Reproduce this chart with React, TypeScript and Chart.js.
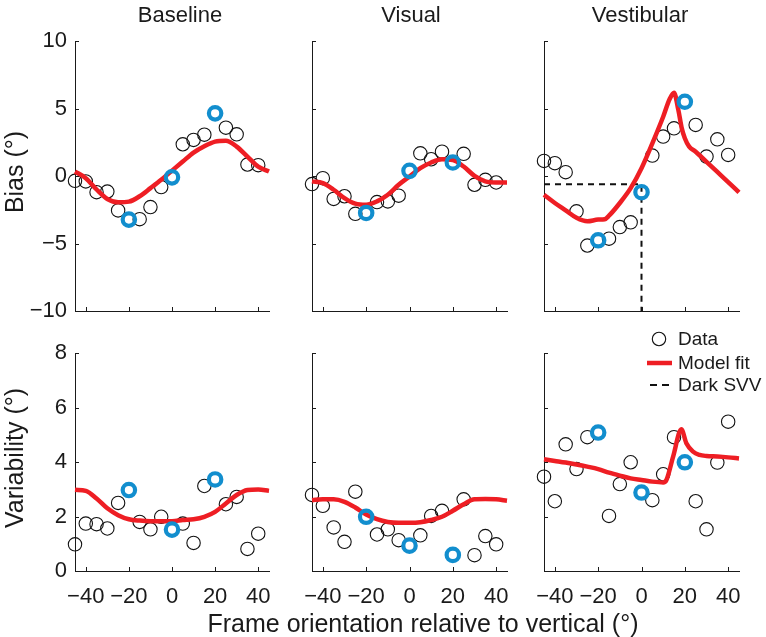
import React, { useEffect, useRef } from 'react';
import { Chart, registerables } from 'chart.js';

Chart.register(...registerables);

// ---------- data ----------
const ANGLES = [-45, -40, -35, -30, -25, -20, -15, -10, -5, 0, 5, 10, 15, 20, 25, 30, 35, 40];
const HIGHLIGHT_ANGLES = [-20, 0, 20];
const FIT_ANGLES = [-45, -40, -35, -30, -25, -20, -15, -10, -5, 0, 5, 10, 15, 20, 25, 30, 35, 40, 45];
const X_TICKS = [-40, -20, 0, 20, 40];
const BIAS_TICKS = [-10, -5, 0, 5, 10];
const VAR_TICKS = [0, 2, 4, 6, 8];
const COLUMN_TITLES = ['Baseline', 'Visual', 'Vestibular'];
const LEGEND_LABELS = ['Data', 'Model fit', 'Dark SVV'];

const BASE_BIAS = [-0.36, -0.4, -1.2, -1.15, -2.55, -3.23, -3.2, -2.3, -0.82, -0.1, 2.35, 2.67, 3.06, 4.64, 3.58, 3.09, 0.85, 0.8];
const BASE_BIAS_FIT = [0.33, -0.16, -1.0, -1.7, -1.95, -1.9, -1.5, -0.9, -0.28, 0.4, 1.07, 1.73, 2.2, 2.55, 2.62, 2.18, 1.44, 0.7, 0.33];

const VIS_BIAS = [-0.6, -0.16, -1.7, -1.5, -2.8, -2.74, -1.93, -1.88, -1.46, 0.38, 1.68, 1.24, 1.8, 1.0, 1.64, -0.65, -0.28, -0.48];
const VIS_BIAS_FIT = [-0.4, -0.53, -1.02, -1.64, -2.05, -2.13, -1.88, -1.39, -0.65, -0.04, 0.58, 1.0, 1.24, 1.19, 0.7, 0.01, -0.4, -0.48, -0.48];

const VEST_BIAS = [1.12, 0.95, 0.28, -2.62, -5.15, -4.76, -4.64, -3.78, -3.43, -1.2, 1.51, 2.92, 3.53, 5.5, 3.78, 1.44, 2.72, 1.56];
const VEST_BIAS_FIT_ANGLES = [-45, -40, -35, -30, -25, -20, -17, -15, -10, -5, 0, 5, 10, 13, 15, 17, 18.5, 20, 22, 25, 30, 35, 40, 45];
const VEST_BIAS_FIT = [-1.39, -2.0, -2.55, -3.1, -3.36, -3.23, -3.2, -2.94, -2.0, -0.9, 0.58, 2.42, 4.39, 5.7, 6.16, 4.9, 3.6, 2.8, 2.18, 1.8, 1.05, 0.3, -0.45, -1.22];
const DARK_SVV = -0.62;

const BASE_VAR = [0.98, 1.74, 1.72, 1.56, 2.5, 2.97, 1.8, 1.53, 1.99, 1.52, 1.74, 1.03, 3.12, 3.36, 2.45, 2.72, 0.81, 1.37];
const BASE_VAR_FIT = [2.98, 2.94, 2.66, 2.3, 2.05, 1.9, 1.85, 1.83, 1.83, 1.83, 1.87, 1.9, 1.99, 2.17, 2.48, 2.79, 2.97, 2.99, 2.94];

const VIS_VAR = [2.79, 2.39, 1.6, 1.07, 2.91, 1.99, 1.34, 1.53, 1.13, 0.93, 1.31, 2.02, 2.21, 0.59, 2.63, 0.58, 1.28, 0.98];
const VIS_VAR_FIT = [2.6, 2.63, 2.63, 2.54, 2.33, 2.07, 1.9, 1.8, 1.77, 1.77, 1.79, 1.87, 1.99, 2.21, 2.45, 2.63, 2.64, 2.63, 2.58];

const VEST_VAR = [3.46, 2.56, 4.65, 3.74, 4.91, 5.08, 2.02, 3.19, 3.99, 2.88, 2.6, 3.55, 4.91, 3.99, 2.56, 1.53, 3.98, 5.48];
const VEST_VAR_FIT_ANGLES = [-45, -40, -35, -30, -25, -20, -15, -10, -5, 0, 5, 10, 11.5, 14.6, 18.4, 20.7, 23.8, 26.8, 30, 35, 40, 45];
const VEST_VAR_FIT = [4.1, 4.04, 3.98, 3.91, 3.83, 3.74, 3.61, 3.5, 3.4, 3.34, 3.28, 3.25, 3.34, 4.2, 5.2, 4.69, 4.38, 4.26, 4.22, 4.2, 4.17, 4.13];

// ---------- styles ----------
const FONT = "'Liberation Sans', Arial, Helvetica, sans-serif";
const RED = 'rgb(238,30,36)';
const BLUE = 'rgb(18,142,206)';
const INK = '#1a1a1a';

const fmt = (v: number) => (v < 0 ? '\u2212' + Math.abs(v) : String(v));

type Rect = { left: number; top: number; width: number; height: number };
type Area = { left: number; top: number; right: number; bottom: number };

interface PanelCfg {
  canvas: Rect;
  area: Area;
  yMin: number;
  yMax: number;
  yTicks: number[];
  showX: boolean;
  showY: boolean;
  values: number[];
  fitX: number[];
  fitY: number[];
  svv?: number;
  legend?: boolean;
}

const COLS = [
  { left: 0, width: 290, aLeft: 75, aRight: 269 },
  { left: 282, width: 245, aLeft: 312, aRight: 507 },
  { left: 520, width: 246, aLeft: 544, aRight: 739 },
];
const ROWS = [
  { top: 15, height: 315, aTop: 41, aBottom: 311 },
  { top: 320, height: 310, aTop: 353, aBottom: 571 },
];

function makePanel(col: number, row: number, values: number[], fitX: number[], fitY: number[], extra: Partial<PanelCfg> = {}): PanelCfg {
  const c = COLS[col];
  const r = ROWS[row];
  return {
    canvas: { left: c.left, top: r.top, width: c.width, height: r.height },
    area: { left: c.aLeft, right: c.aRight, top: r.aTop, bottom: r.aBottom },
    yMin: row === 0 ? -10 : 0,
    yMax: row === 0 ? 10 : 8,
    yTicks: row === 0 ? BIAS_TICKS : VAR_TICKS,
    showX: row === 1,
    showY: col === 0,
    values,
    fitX,
    fitY,
    ...extra,
  };
}

const PANELS: PanelCfg[] = [
  makePanel(0, 0, BASE_BIAS, FIT_ANGLES, BASE_BIAS_FIT),
  makePanel(1, 0, VIS_BIAS, FIT_ANGLES, VIS_BIAS_FIT),
  makePanel(2, 0, VEST_BIAS, VEST_BIAS_FIT_ANGLES, VEST_BIAS_FIT, { svv: DARK_SVV }),
  makePanel(0, 1, BASE_VAR, FIT_ANGLES, BASE_VAR_FIT),
  makePanel(1, 1, VIS_VAR, FIT_ANGLES, VIS_VAR_FIT),
  makePanel(2, 1, VEST_VAR, VEST_VAR_FIT_ANGLES, VEST_VAR_FIT, { legend: true }),
];

function Panel({ cfg }: { cfg: PanelCfg }) {
  const ref = useRef<HTMLCanvasElement | null>(null);
  useEffect(() => {
    const canvas = ref.current;
    if (!canvas) return;
    const { canvas: c, area } = cfg;
    const pts = ANGLES.map((a, i) => ({ x: a, y: cfg.values[i] }));
    const hl = ANGLES.map((a, i) => ({ x: a, y: cfg.values[i] })).filter((p) => HIGHLIGHT_ANGLES.includes(p.x));
    const fit = cfg.fitX.map((a, i) => ({ x: a, y: cfg.fitY[i] }));

    const datasets: any[] = [
      {
        label: 'highlight',
        data: hl,
        showLine: false,
        pointRadius: 6.2,
        pointBorderWidth: 4.2,
        pointBorderColor: BLUE,
        borderColor: BLUE,
        pointBackgroundColor: 'rgba(0,0,0,0)',
        backgroundColor: 'rgba(0,0,0,0)',
        order: 0,
        clip: false,
      },
      {
        label: 'fit',
        data: fit,
        showLine: true,
        pointRadius: 0,
        borderColor: RED,
        borderWidth: 4.5,
        cubicInterpolationMode: 'monotone',
        borderCapStyle: 'butt',
        order: 1,
        clip: false,
      },
    ];
    if (cfg.svv !== undefined) {
      datasets.push({
        label: 'svv',
        data: [
          { x: -45, y: cfg.svv },
          { x: 0, y: cfg.svv },
          { x: 0, y: cfg.yMin },
        ],
        showLine: true,
        pointRadius: 0,
        borderColor: '#111',
        borderWidth: 2,
        borderDash: [6, 5],
        tension: 0,
        order: 2,
        clip: false,
      });
    }
    datasets.push({
      label: 'data',
      data: pts,
      showLine: false,
      pointRadius: 6.7,
      pointBorderWidth: 1.1,
      pointBorderColor: '#111',
      borderColor: '#111',
      pointBackgroundColor: 'rgba(0,0,0,0)',
      backgroundColor: 'rgba(0,0,0,0)',
      order: 3,
      clip: false,
    });

    const innerTicks = {
      id: 'innerTicks',
      afterDraw(chart: any) {
        const { ctx, chartArea, scales } = chart;
        ctx.save();
        ctx.strokeStyle = INK;
        ctx.lineWidth = 1;
        ctx.beginPath();
        X_TICKS.forEach((v) => {
          const x = Math.round(scales.x.getPixelForValue(v)) + 0.5;
          ctx.moveTo(x, chartArea.bottom);
          ctx.lineTo(x, chartArea.bottom - 4);
        });
        cfg.yTicks.forEach((v) => {
          const y = Math.round(scales.y.getPixelForValue(v)) + 0.5;
          ctx.moveTo(chartArea.left, y);
          ctx.lineTo(chartArea.left + 4, y);
        });
        ctx.stroke();
        ctx.restore();
      },
    };

    const legendPlugin = {
      id: 'panelLegend',
      afterDraw(chart: any) {
        if (!cfg.legend) return;
        const { ctx } = chart;
        const ox = c.left;
        const oy = c.top;
        ctx.save();
        ctx.font = `19px ${FONT}`;
        ctx.fillStyle = INK;
        ctx.textBaseline = 'middle';
        ctx.textAlign = 'left';
        const tx = 678 - ox;
        const rowsY = [339, 363, 385].map((y) => y - oy);
        ctx.strokeStyle = '#111';
        ctx.lineWidth = 1.1;
        ctx.beginPath();
        ctx.arc(659 - ox, rowsY[0], 6.7, 0, Math.PI * 2);
        ctx.stroke();
        ctx.strokeStyle = RED;
        ctx.lineWidth = 4.5;
        ctx.beginPath();
        ctx.moveTo(647 - ox, rowsY[1]);
        ctx.lineTo(672 - ox, rowsY[1]);
        ctx.stroke();
        ctx.strokeStyle = '#111';
        ctx.lineWidth = 2;
        ctx.setLineDash([7, 5]);
        ctx.beginPath();
        ctx.moveTo(650 - ox, rowsY[2]);
        ctx.lineTo(669 - ox, rowsY[2]);
        ctx.stroke();
        ctx.setLineDash([]);
        LEGEND_LABELS.forEach((t, i) => ctx.fillText(t, tx, rowsY[i] + 1));
        ctx.restore();
      },
    };

    const chart = new Chart(canvas, {
      type: 'scatter',
      data: { datasets },
      plugins: [innerTicks, legendPlugin],
      options: {
        responsive: false,
        animation: false,
        devicePixelRatio: 1,
        layout: {
          padding: {
            top: area.top - c.top,
            right: c.left + c.width - area.right,
            bottom: 0,
            left: 0,
          },
        },
        plugins: {
          legend: { display: false },
          tooltip: { enabled: false },
          title: { display: false },
        },
        scales: {
          x: {
            type: 'linear',
            min: -45,
            max: 45,
            grid: { display: false, drawTicks: false },
            border: { display: true, color: INK, width: 1 },
            afterBuildTicks: (s: any) => {
              s.ticks = X_TICKS.map((v) => ({ value: v }));
            },
            afterFit: (s: any) => {
              s.height = c.top + c.height - area.bottom;
              s.paddingLeft = 0;
              s.paddingRight = 0;
            },
            ticks: {
              display: cfg.showX,
              autoSkip: false,
              maxRotation: 0,
              minRotation: 0,
              padding: 13,
              color: INK,
              font: { family: FONT, size: 22 },
              callback: (v: any) => fmt(Number(v)),
            },
          },
          y: {
            type: 'linear',
            min: cfg.yMin,
            max: cfg.yMax,
            grid: { display: false, drawTicks: false },
            border: { display: true, color: INK, width: 1 },
            afterBuildTicks: (s: any) => {
              s.ticks = cfg.yTicks.map((v) => ({ value: v }));
            },
            afterFit: (s: any) => {
              s.width = area.left - c.left;
              s.paddingTop = 0;
              s.paddingBottom = 0;
            },
            ticks: {
              display: cfg.showY,
              autoSkip: false,
              padding: 8,
              color: INK,
              font: { family: FONT, size: 22 },
              callback: (v: any) => fmt(Number(v)),
            },
          },
        },
      } as any,
    });
    return () => chart.destroy();
  }, [cfg]);

  const { canvas: c } = cfg;
  return (
    <canvas
      ref={ref}
      width={c.width}
      height={c.height}
      style={{ position: 'absolute', left: c.left, top: c.top, width: c.width, height: c.height }}
    />
  );
}

const textStyle = (x: number, y: number, size: number, rotate = 0): React.CSSProperties => ({
  position: 'absolute',
  left: x,
  top: y,
  transform: `translate(-50%, -50%)${rotate ? ` rotate(${rotate}deg)` : ''}`,
  fontFamily: FONT,
  fontSize: size,
  color: INK,
  whiteSpace: 'nowrap',
  lineHeight: 1,
});

export default function App() {
  const titleX = [180, 411, 640];
  return (
    <div style={{ position: 'absolute', left: 0, top: 0, width: 766, height: 637, background: '#fff', overflow: 'hidden' }}>
      {PANELS.map((p, i) => (
        <Panel key={i} cfg={p} />
      ))}
      {COLUMN_TITLES.map((t, i) => (
        <div key={t} style={textStyle(titleX[i], 15, 22)}>
          {t}
        </div>
      ))}
      <div style={textStyle(14, 172, 25, -90)}>Bias (°)</div>
      <div style={textStyle(14, 458, 25, -90)}>Variability (°)</div>
      <div style={textStyle(423, 623, 25)}>Frame orientation relative to vertical (°)</div>
    </div>
  );
}
